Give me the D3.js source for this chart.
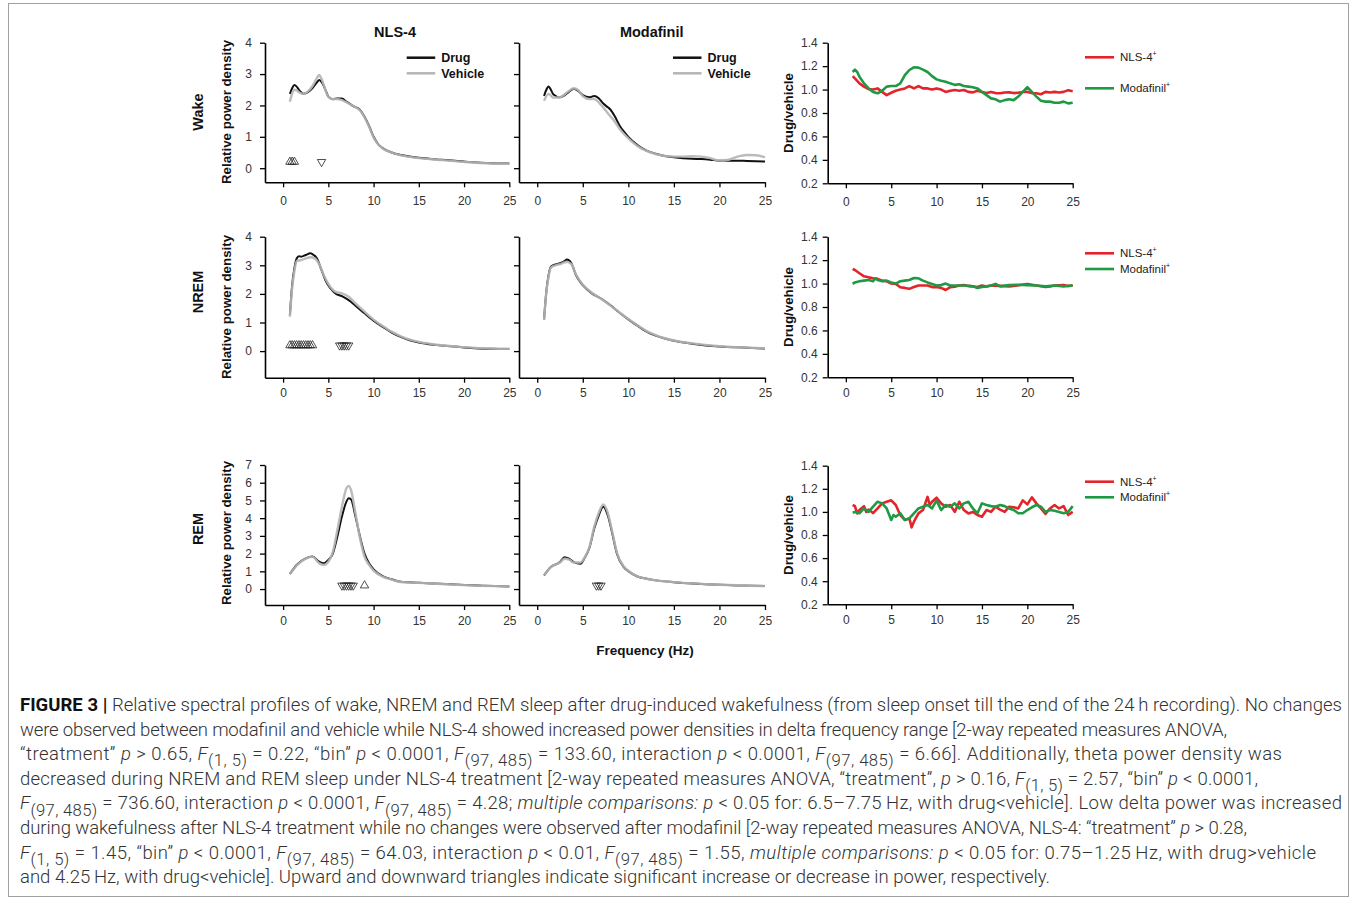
<!DOCTYPE html>
<html>
<head>
<meta charset="utf-8">
<script src="https://cdn.jsdelivr.net/npm/d3@7"></script>
<style>
  body { margin: 0; background: #fff; }
  svg { display: block; font-family: "Liberation Sans", Arial, sans-serif; }
  .caption { font-family: Roboto, "Liberation Sans", sans-serif; white-space: pre; }
</style>
</head>
<body>
<svg id="chart"></svg>
<script>
// ---- data ----
const freqTicks = [0, 5, 10, 15, 20, 25];
const wakeYTicks = [0, 1, 2, 3, 4];
const nremYTicks = [0, 1, 2, 3, 4];
const remYTicks = [0, 1, 2, 3, 4, 5, 6, 7];
const ratioTicks = [0.2, 0.4, 0.6, 0.8, 1.0, 1.2, 1.4];

const wakeNlsDrug = [[0.75,2.37],[1,2.55],[1.25,2.65],[1.5,2.6],[1.75,2.5],[2,2.42],[2.25,2.37],[2.75,2.42],[3.25,2.55],[3.75,2.74],[4,2.81],[4.25,2.75],[4.75,2.45],[5,2.28],[5.5,2.2],[6,2.22],[6.5,2.22],[7,2.12],[7.75,1.98],[8.5,1.86],[9,1.64],[9.5,1.35],[10,1.0],[10.5,0.77],[11,0.64],[12,0.5],[13,0.42],[14,0.37],[15,0.33],[17,0.28],[20,0.21],[23,0.16],[25,0.15]];
const wakeNlsVeh = [[0.75,2.12],[1,2.38],[1.25,2.5],[1.5,2.48],[1.75,2.42],[2.25,2.37],[2.75,2.45],[3.25,2.62],[3.75,2.88],[4,2.97],[4.25,2.85],[4.5,2.65],[5,2.28],[5.5,2.2],[6,2.2],[6.5,2.17],[7,2.1],[7.75,1.98],[8.5,1.84],[9,1.62],[9.5,1.32],[10,0.98],[10.5,0.76],[11,0.63],[12,0.5],[13,0.41],[14,0.36],[15,0.32],[17,0.27],[20,0.2],[23,0.15],[25,0.14]];
const wakeModDrug = [[0.75,2.3],[1,2.5],[1.25,2.6],[1.5,2.5],[1.75,2.36],[2.5,2.26],[3,2.32],[3.5,2.44],[4,2.53],[4.5,2.46],[5,2.33],[5.75,2.26],[6.25,2.3],[6.75,2.23],[7.25,2.06],[7.75,1.94],[8,1.88],[8.5,1.66],[9,1.38],[9.5,1.17],[10,1.0],[11,0.74],[12,0.56],[13,0.46],[14,0.39],[15,0.35],[16,0.32],[17,0.3],[18,0.29],[19,0.27],[20,0.24],[22,0.24],[23,0.23],[25,0.21]];
const wakeModVeh = [[0.75,2.15],[1.25,2.37],[1.75,2.25],[2.5,2.26],[3.25,2.41],[4,2.55],[4.5,2.49],[5,2.3],[5.75,2.2],[6.25,2.2],[7,2.02],[7.75,1.75],[8.5,1.49],[9,1.27],[10,0.95],[11,0.71],[12,0.55],[13,0.45],[15,0.37],[16,0.37],[17,0.38],[18,0.37],[19,0.32],[20,0.24],[21,0.27],[22,0.37],[23,0.42],[24,0.41],[25,0.35]];

const nremNlsDrug = [[0.75,1.26],[1,2.3],[1.25,2.9],[1.5,3.24],[1.75,3.32],[2,3.3],[2.5,3.36],[3,3.42],[3.25,3.39],[3.75,3.24],[4.25,2.83],[4.75,2.43],[5.25,2.19],[5.75,2.02],[6.5,1.92],[7.25,1.78],[8,1.59],[9,1.32],[10,1.06],[11,0.85],[12,0.65],[13,0.5],[14,0.38],[15,0.3],[17,0.21],[20,0.13],[23,0.08],[25,0.07]];
const nremNlsVeh = [[0.75,1.2],[1,2.2],[1.25,2.8],[1.5,3.15],[2,3.18],[2.5,3.24],[3,3.28],[3.5,3.24],[4,3.03],[4.5,2.65],[5,2.35],[5.75,2.08],[6.5,2.02],[7.25,1.9],[8,1.67],[9,1.38],[10,1.1],[11,0.88],[12,0.68],[13,0.52],[14,0.4],[15,0.32],[17,0.22],[20,0.14],[23,0.09],[25,0.08]];
const nremModDrug = [[0.75,1.11],[1,2.08],[1.25,2.66],[1.5,2.95],[2,3.03],[2.5,3.07],[3,3.15],[3.25,3.2],[3.75,3.07],[4.25,2.66],[5,2.31],[6,2.02],[7,1.84],[8,1.61],[9,1.35],[10,1.11],[11,0.89],[12,0.68],[13,0.54],[14,0.44],[15,0.36],[17,0.26],[20,0.16],[23,0.12],[25,0.09]];
const nremModVeh = [[0.75,1.1],[1,2.05],[1.25,2.62],[1.5,2.92],[2,3.0],[2.5,3.04],[3,3.1],[3.25,3.12],[3.75,3.04],[4.25,2.68],[5,2.33],[6,2.04],[7,1.83],[8,1.6],[9,1.36],[10,1.12],[11,0.9],[12,0.7],[13,0.56],[14,0.45],[15,0.37],[17,0.27],[20,0.17],[23,0.12],[25,0.1]];

const remNlsDrug = [[0.75,0.85],[1.5,1.36],[2.5,1.73],[3.25,1.83],[4,1.54],[4.5,1.45],[5,1.64],[5.5,2.0],[6,2.96],[6.5,4.09],[7,4.93],[7.25,5.12],[7.5,5.07],[8,4.09],[8.5,2.96],[9,2.0],[9.5,1.45],[10,1.11],[11,0.73],[12,0.55],[13,0.41],[15,0.36],[18,0.28],[20,0.23],[25,0.15]];
const remNlsVeh = [[0.75,0.85],[1.5,1.33],[2.5,1.72],[3.25,1.83],[4,1.45],[4.5,1.36],[5,1.54],[5.5,2.1],[6,3.33],[6.5,4.65],[7,5.69],[7.25,5.82],[7.5,5.6],[8,4.27],[8.5,2.86],[9,1.83],[9.5,1.36],[10,1.04],[11,0.7],[12,0.53],[13,0.4],[15,0.35],[18,0.27],[20,0.22],[25,0.14]];
const remModDrug = [[0.75,0.77],[1.5,1.24],[2.5,1.52],[3,1.8],[3.5,1.71],[4,1.52],[4.75,1.43],[5.25,1.8],[5.75,2.36],[6.25,3.4],[6.75,4.15],[7.25,4.65],[7.75,4.15],[8.25,3.11],[8.75,1.99],[9.5,1.24],[10,1.01],[11,0.71],[12,0.58],[13,0.49],[15,0.39],[20,0.24],[25,0.17]];
const remModVeh = [[0.75,0.77],[1.5,1.24],[2.5,1.5],[3,1.71],[3.5,1.66],[4,1.5],[4.75,1.5],[5.25,1.82],[5.75,2.4],[6.25,3.5],[6.75,4.3],[7.25,4.77],[7.75,4.3],[8.25,3.2],[8.75,2.05],[9.5,1.27],[10,1.03],[11,0.72],[12,0.58],[13,0.49],[15,0.39],[20,0.24],[25,0.17]];

const wakeRatioNls = [[0.75,1.115],[1,1.095],[1.5,1.053],[2,1.025],[2.5,1.005],[3,1.0],[3.5,1.01],[4,0.98],[4.5,0.953],[5,0.973],[5.5,0.99],[6,1.0],[6.5,1.01],[7,1.03],[7.5,1.01],[8,1.03],[8.5,1.01],[9,1.01],[9.5,1.0],[10,1.01],[10.5,1.0],[11,0.98],[11.5,0.99],[12,0.996],[12.5,0.99],[13,0.996],[13.5,0.98],[14,0.976],[14.5,0.99],[15,0.98],[15.5,0.97],[16,0.98],[16.5,0.97],[17,0.968],[17.5,0.975],[18,0.976],[18.5,0.97],[19,0.973],[19.5,0.98],[20,0.98],[20.5,0.97],[21,0.968],[21.5,0.96],[22,0.98],[22.5,0.975],[23,0.98],[23.5,0.975],[24,0.98],[24.5,0.995],[25,0.985]];
const wakeRatioMod = [[0.75,1.15],[1,1.17],[1.25,1.15],[1.5,1.11],[2,1.053],[2.5,1.01],[3,0.98],[3.5,0.968],[4,0.99],[4.5,1.025],[5,1.03],[5.5,1.03],[6,1.053],[6.5,1.124],[7,1.167],[7.5,1.19],[8,1.187],[8.5,1.17],[9,1.15],[9.5,1.115],[10,1.087],[10.5,1.075],[11,1.067],[11.5,1.053],[12,1.04],[12.5,1.045],[13,1.03],[13.5,1.025],[14,1.02],[14.5,1.01],[15,0.98],[15.5,0.953],[16,0.925],[16.5,0.917],[17,0.897],[17.5,0.91],[18,0.917],[18.5,0.91],[19,0.94],[19.5,0.98],[20,1.02],[20.5,0.98],[21,0.94],[21.5,0.905],[22,0.897],[22.5,0.897],[23,0.888],[23.5,0.888],[24,0.897],[24.5,0.882],[25,0.888]];
const nremRatioNls = [[0.75,1.124],[1,1.116],[1.5,1.088],[2,1.062],[2.5,1.053],[3,1.045],[3.5,1.04],[4,1.025],[4.5,1.02],[5,1.0],[5.5,0.997],[6,0.969],[6.5,0.963],[7,0.955],[7.5,0.97],[8,0.983],[8.5,0.983],[9,0.983],[9.5,0.97],[10,0.97],[10.5,0.963],[11,0.945],[11.5,0.97],[12,0.974],[12.5,0.983],[13,0.987],[13.5,0.98],[14,0.976],[14.5,0.97],[15,0.983],[15.5,0.975],[16,0.983],[17,0.98],[18,0.976],[19,0.985],[20,0.997],[21,0.983],[22,0.97],[22.5,0.975],[23,0.983],[24,0.987],[24.5,0.98],[25,0.983]];
const nremRatioMod = [[0.75,0.997],[1,1.01],[1.5,1.02],[2,1.025],[2.5,1.03],[3,1.02],[3.25,1.045],[3.5,1.03],[4,1.02],[4.5,1.025],[5,1.01],[5.5,1.0],[6,1.02],[6.5,1.025],[7,1.03],[7.5,1.047],[8,1.045],[8.5,1.025],[9,1.01],[9.5,0.997],[10,0.983],[10.5,0.987],[11,1.0],[11.5,0.983],[12,0.983],[13,0.983],[14,0.976],[14.5,0.962],[15,0.97],[15.5,0.976],[16,0.983],[16.5,0.997],[17,0.976],[18,0.987],[19,0.99],[20,0.987],[21,0.983],[22,0.976],[23,0.983],[24,0.976],[25,0.983]];
const remRatioNls = [[0.75,1.06],[1,1.05],[1.25,0.987],[1.5,1.016],[2,1.05],[2.25,1.0],[2.5,1.02],[3,0.99],[3.5,1.03],[4,1.074],[4.5,1.088],[5,1.1],[5.5,1.06],[6,0.973],[6.5,0.93],[7,0.944],[7.25,0.866],[7.5,0.915],[8,0.987],[8.5,1.016],[9,1.13],[9.25,1.06],[9.5,1.088],[10,1.123],[10.5,1.074],[11,1.045],[11.5,1.06],[12,1.0],[12.5,1.088],[13,1.016],[13.5,0.987],[14,1.0],[14.5,0.973],[15,0.958],[15.5,1.016],[16,1.0],[16.5,1.045],[17,1.02],[17.5,1.0],[18,1.045],[18.5,1.04],[19,1.03],[19.5,1.1],[20,1.065],[20.5,1.126],[21,1.074],[21.5,1.03],[22,0.982],[22.5,1.03],[23,1.06],[23.5,1.03],[24,1.05],[24.5,0.973],[25,1.0]];
const remRatioMod = [[0.75,0.993],[1,1.0],[1.5,0.988],[2,1.03],[2.5,1.0],[3,1.045],[3.5,1.088],[4,1.074],[4.5,1.03],[5,0.93],[5.25,0.973],[5.5,0.958],[6,0.988],[6.5,0.93],[7,0.944],[7.5,0.988],[8,1.03],[8.5,1.045],[9,1.06],[9.5,1.03],[10,1.1],[10.5,1.016],[11,1.06],[11.5,1.045],[12,1.074],[12.5,1.03],[13,1.074],[13.5,1.088],[14,1.03],[14.5,0.988],[15,1.074],[15.5,1.06],[16,1.05],[16.5,1.045],[17,1.06],[17.5,1.05],[18,1.03],[18.5,1.016],[19,0.988],[19.5,0.988],[20,1.016],[20.5,1.04],[21,1.06],[21.5,1.045],[22,1.0],[22.5,1.016],[23,1.01],[23.5,1.0],[24,0.988],[24.5,1.0],[25,1.05]];

// significant bins (Hz)
const wakeNlsUp = [0.75, 1.0, 1.25];
const wakeNlsDown = [4.25];
const nremNlsUp = [0.75, 1.0, 1.25, 1.5, 1.75, 2.0, 2.25, 2.5, 2.75, 3.0, 3.25];
const nremNlsDown = [6.25, 6.5, 6.75, 7.0, 7.25];
const remNlsDown = [6.5, 6.75, 7.0, 7.25, 7.5, 7.75];
const remNlsUp = [9.0];
const remModDown = [6.5, 6.75, 7.0];

// ---- layout ----
const W = 1357, H = 904;
const colRange = { nls: [265, 509.3], mod: [519, 765], ratio: [827.7, 1072.7] };
const xDomain = [-2, 25];
const drugColor = "#111", vehColor = "#b5b5b5";
const nlsColor = "#e3242b", modColor = "#1e9a45";

const rows = [
  { label: "Wake", top: 42.7, bottom: 182.3, domain: [-0.45, 4], yTicks: wakeYTicks,
    rTop: 42.7, rBottom: 183.3, xPad: 9, labelY: 112, densY: 112, legend: true, ratioLegY: [57.3, 88.3],
    nls: [wakeNlsDrug, wakeNlsVeh], mod: [wakeModDrug, wakeModVeh], ratio: [wakeRatioNls, wakeRatioMod],
    up: { nls: wakeNlsUp, mod: [] }, down: { nls: wakeNlsDown, mod: [] } },
  { label: "NREM", top: 236.7, bottom: 377.7, domain: [-0.93, 4], yTicks: nremYTicks,
    rTop: 236.7, rBottom: 377.3, xPad: 6, labelY: 292, densY: 307, legend: false, ratioLegY: [253.3, 269],
    nls: [nremNlsDrug, nremNlsVeh], mod: [nremModDrug, nremModVeh], ratio: [nremRatioNls, nremRatioMod],
    up: { nls: nremNlsUp, mod: [] }, down: { nls: nremNlsDown, mod: [] } },
  { label: "REM", top: 465, bottom: 605, domain: [-0.9, 7], yTicks: remYTicks,
    rTop: 465.7, rBottom: 604.3, xPad: 6, labelY: 529, densY: 533, legend: false, ratioLegY: [481.7, 497.3],
    nls: [remNlsDrug, remNlsVeh], mod: [remModDrug, remModVeh], ratio: [remRatioNls, remRatioMod],
    up: { nls: remNlsUp, mod: [] }, down: { nls: remNlsDown, mod: remModDown } }
];

const svg = d3.select("#chart").attr("width", W).attr("height", H);

svg.append("rect")
  .attr("x", 8.5).attr("y", 3.5)
  .attr("width", 1340).attr("height", 893)
  .attr("fill", "none").attr("stroke", "#a0a0a0").attr("stroke-width", 1);

function styleAxis(g) {
  g.attr("font-family", "Liberation Sans, Arial, sans-serif").attr("font-size", 12);
  g.selectAll("path.domain").attr("stroke", "#000").attr("stroke-width", 1.6);
  g.selectAll(".tick line").attr("stroke", "#000").attr("stroke-width", 1.3);
  g.selectAll(".tick text").attr("fill", "#333");
}

function drawXAxis(x, yPos, pad) {
  const g = svg.append("g")
    .attr("transform", `translate(0,${yPos})`)
    .call(d3.axisBottom(x).tickValues(freqTicks).tickSize(5).tickSizeOuter(0).tickPadding(pad));
  styleAxis(g);
}

const triangle = d3.symbol().type(d3.symbolTriangle).size(30);

rows.forEach(row => {
  // spectra panels
  ["nls", "mod"].forEach(col => {
    const x = d3.scaleLinear().domain(xDomain).range(colRange[col]);
    const y = d3.scaleLinear().domain(row.domain).range([row.bottom, row.top]);

    drawXAxis(x, row.bottom, row.xPad);
    const yAxis = d3.axisLeft(y).tickValues(row.yTicks).tickFormat(d3.format("d"))
      .tickSize(5).tickSizeOuter(0).tickPadding(8);
    if (col === "mod") yAxis.tickFormat("");
    const gy = svg.append("g").attr("transform", `translate(${colRange[col][0]},0)`).call(yAxis);
    styleAxis(gy);

    const line = d3.line().x(d => x(d[0])).y(d => y(d[1])).curve(d3.curveMonotoneX);
    const [drug, veh] = row[col];
    svg.append("path").datum(drug).attr("d", line)
      .attr("fill", "none").attr("stroke", drugColor).attr("stroke-width", 2);
    svg.append("path").datum(veh).attr("d", line)
      .attr("fill", "none").attr("stroke", vehColor).attr("stroke-width", 2.4).attr("opacity", 0.92);

    svg.selectAll(null).data(row.up[col]).join("path")
      .attr("d", triangle)
      .attr("transform", d => `translate(${x(d)},${y(0.2)})`)
      .attr("fill", "none").attr("stroke", "#222").attr("stroke-width", 0.8);
    svg.selectAll(null).data(row.down[col]).join("path")
      .attr("d", triangle)
      .attr("transform", d => `translate(${x(d)},${y(0.2)}) rotate(180)`)
      .attr("fill", "none").attr("stroke", "#222").attr("stroke-width", 0.8);

    if (row.legend) {
      const lx = col === "nls" ? 406.7 : 673;
      [["Drug", drugColor, 57.7], ["Vehicle", vehColor, 73.3]].forEach(([t, c, ly]) => {
        svg.append("line").attr("x1", lx).attr("x2", lx + 28.5).attr("y1", ly).attr("y2", ly)
          .attr("stroke", c).attr("stroke-width", 2.5);
        svg.append("text").attr("x", lx + 34.5).attr("y", ly).attr("dy", "0.35em")
          .attr("font-size", 12.5).attr("font-weight", "bold").attr("fill", "#111").text(t);
      });
    }
  });

  // ratio panel
  const xr = d3.scaleLinear().domain(xDomain).range(colRange.ratio);
  const yr = d3.scaleLinear().domain([0.2, 1.4]).range([row.rBottom, row.rTop]);
  drawXAxis(xr, row.rBottom, row.xPad);
  const gyr = svg.append("g").attr("transform", `translate(${colRange.ratio[0]},0)`)
    .call(d3.axisLeft(yr).tickValues(ratioTicks).tickFormat(d3.format(".1f")).tickSize(5).tickSizeOuter(0).tickPadding(5));
  styleAxis(gyr);

  const rline = d3.line().x(d => xr(d[0])).y(d => yr(d[1]));
  const [rn, rm] = row.ratio;
  svg.append("path").datum(rn).attr("d", rline)
    .attr("fill", "none").attr("stroke", nlsColor).attr("stroke-width", 2.6).attr("stroke-linejoin", "round");
  svg.append("path").datum(rm).attr("d", rline)
    .attr("fill", "none").attr("stroke", modColor).attr("stroke-width", 2.6).attr("stroke-linejoin", "round");

  [["NLS-4", nlsColor, row.ratioLegY[0]], ["Modafinil", modColor, row.ratioLegY[1]]].forEach(([t, c, ly]) => {
    svg.append("line").attr("x1", 1085).attr("x2", 1114).attr("y1", ly).attr("y2", ly)
      .attr("stroke", c).attr("stroke-width", 2.6);
    const tx = svg.append("text").attr("x", 1120).attr("y", ly).attr("dy", "0.35em")
      .attr("font-size", 11.5).attr("fill", "#222");
    tx.append("tspan").text(t);
    tx.append("tspan").attr("font-size", 7).attr("dy", -5).text("+");
  });

  svg.append("text")
    .attr("transform", `translate(788,${(row.rTop + row.rBottom) / 2}) rotate(-90)`)
    .attr("text-anchor", "middle").attr("dy", "0.35em")
    .attr("font-size", 13.3).attr("font-weight", "bold").attr("fill", "#111")
    .text("Drug/vehicle");

  svg.append("text")
    .attr("transform", `translate(226.7,${row.densY}) rotate(-90)`)
    .attr("text-anchor", "middle").attr("dy", "0.35em")
    .attr("font-size", 13.3).attr("font-weight", "bold").attr("fill", "#111")
    .text("Relative power density");

  svg.append("text")
    .attr("transform", `translate(197.5,${row.labelY}) rotate(-90)`)
    .attr("text-anchor", "middle").attr("dy", "0.35em")
    .attr("font-size", 14.5).attr("font-weight", "bold").attr("fill", "#111")
    .text(row.label);
});

// titles
svg.append("text").attr("x", 395).attr("y", 31.7).attr("dy", "0.35em").attr("text-anchor", "middle")
  .attr("font-size", 14.5).attr("font-weight", "bold").attr("fill", "#111").text("NLS-4");
svg.append("text").attr("x", 651.7).attr("y", 31.7).attr("dy", "0.35em").attr("text-anchor", "middle")
  .attr("font-size", 14.5).attr("font-weight", "bold").attr("fill", "#111").text("Modafinil");
svg.append("text").attr("x", 645).attr("y", 650).attr("dy", "0.35em").attr("text-anchor", "middle")
  .attr("font-size", 13.5).attr("font-weight", "bold").attr("fill", "#111").text("Frequency (Hz)");

// ---- caption ----
// {b:..} bold, {i:..} italic, {s:..} subscript
const captionLines = [
  "{b:FIGURE 3 | }Relative spectral profiles of wake, NREM and REM sleep after drug-induced wakefulness (from sleep onset till the end of the 24\u2009h recording). No changes",
  "were observed between modafinil and vehicle while NLS-4 showed increased power densities in delta frequency range [2-way repeated measures ANOVA,",
  "\u201Ctreatment\u201D {i:p} > 0.65, {i:F}{s:(1, 5)} =  0.22, \u201Cbin\u201D {i:p} < 0.0001, {i:F}{s:(97, 485)} =  133.60, interaction {i:p} < 0.0001, {i:F}{s:(97, 485)} =  6.66]. Additionally, theta power density was",
  "decreased during NREM and REM sleep under NLS-4 treatment [2-way repeated measures ANOVA, \u201Ctreatment\u201D, {i:p} > 0.16, {i:F}{s:(1, 5)} =  2.57, \u201Cbin\u201D {i:p} < 0.0001,",
  "{i:F}{s:(97, 485)} =  736.60, interaction {i:p} < 0.0001, {i:F}{s:(97, 485)} =  4.28; {i:multiple comparisons: p} < 0.05 for: 6.5\u20137.75\u2009Hz, with drug<vehicle]. Low delta power was increased",
  "during wakefulness after NLS-4 treatment while no changes were observed after modafinil [2-way repeated measures ANOVA, NLS-4: \u201Ctreatment\u201D {i:p} > 0.28,",
  "{i:F}{s:(1, 5)} =  1.45, \u201Cbin\u201D {i:p} < 0.0001, {i:F}{s:(97, 485)} =  64.03, interaction {i:p} < 0.01, {i:F}{s:(97, 485)} =  1.55, {i:multiple comparisons: p} < 0.05 for: 0.75\u20131.25\u2009Hz, with drug>vehicle",
  "and 4.25\u2009Hz, with drug<vehicle]. Upward and downward triangles indicate significant increase or decrease in power, respectively."
];
// right end of each caption line in the figure
const captionEnds = [1342, 1227, 1282, 1258, 1342, 1247, 1316, 1050];

function parseLine(s) {
  const parts = [];
  const re = /\{([bis]):([^}]*)\}/g;
  let last = 0, m;
  while ((m = re.exec(s))) {
    if (m.index > last) parts.push(["n", s.slice(last, m.index)]);
    parts.push([m[1], m[2]]);
    last = re.lastIndex;
  }
  if (last < s.length) parts.push(["n", s.slice(last)]);
  return parts;
}

const capG = svg.append("g").attr("class", "caption");
function drawCaption(fs, fit) {
  capG.selectAll("*").remove();
  return captionLines.map((ln, i) => {
    const t = capG.append("text").attr("x", 20).attr("y", 711 + i * 24.6)
      .attr("font-size", fs).attr("font-weight", 300).attr("fill", "#333");
    let shift = 0;
    parseLine(ln).forEach(([k, txt]) => {
      const sp = t.append("tspan").text(txt);
      const target = k === "s" ? fs * 0.33 : 0;
      if (target !== shift) { sp.attr("dy", target - shift); shift = target; }
      if (k === "b") sp.attr("font-weight", "bold").attr("fill", "#111");
      if (k === "i") sp.attr("font-style", "italic");
      if (k === "s") sp.attr("font-size", fs * 0.9);
    });
    if (fit) t.attr("textLength", captionEnds[i] - 20).attr("lengthAdjust", "spacing");
    return t;
  });
}
// size the font so the first and last lines fit naturally, then fit each line to its end
const probe = drawCaption(16, false);
const natural = (probe[0].node().getComputedTextLength() + probe[7].node().getComputedTextLength()) /
  (captionEnds[0] - 20 + captionEnds[7] - 20);
drawCaption(16 / natural, true);
</script>
</body>
</html>
